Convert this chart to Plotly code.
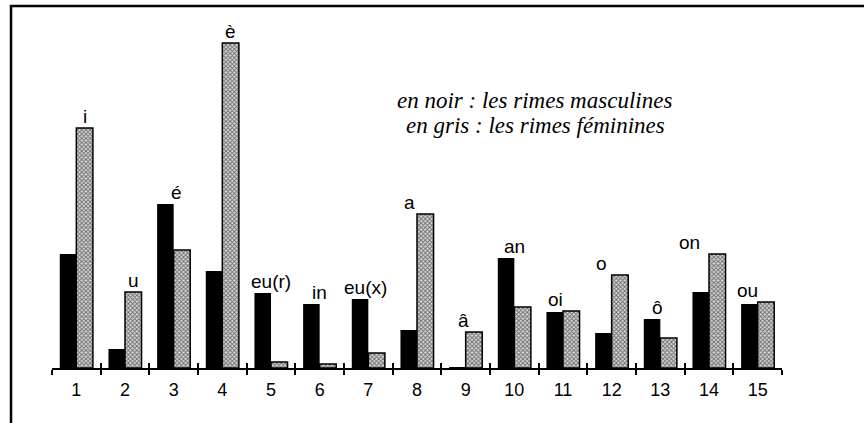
import plotly.graph_objects as go

# ---- data ----
categories = list(range(1, 16))
tick_labels = [str(c) for c in categories]
rimes = ["i", "u", "é", "è", "eu(r)", "in", "eu(x)", "a", "â", "an", "oi", "o", "ô", "on", "ou"]
masculines = [114, 19, 164, 97, 75, 64, 69, 38, 1, 110, 56, 35, 49, 76, 64]
feminines = [240, 76, 118, 325, 6, 4, 15, 154, 36, 61, 57, 93, 30, 114, 66]

# ---- style: horizontal placement of each rhyme label (in category units) ----
label_dx = [0.17, 0.17, 0.05, 0.17, 0, 0, -0.05, -0.15, -0.05, 0, -0.15, -0.2, -0.05, -0.4, -0.2]

W, H = 864, 423
ML, MR, MT, MB = 52, 82, 28, 55
YMAX = 340

boundaries = [c - 0.5 for c in categories] + [categories[-1] + 0.5]

fig = go.Figure()
fig.add_trace(go.Bar(
    x=categories, y=masculines, name="masculines",
    marker=dict(color="black", line=dict(width=0)),
))
fig.add_trace(go.Bar(
    x=categories, y=feminines, name="féminines",
    marker=dict(
        color="#808080",
        line=dict(color="black", width=1.5),
        pattern=dict(shape="x", size=3, solidity=0.55, fgcolor="#000000", bgcolor="#dcdcdc"),
    ),
))
# invisible trace to hold the secondary tick axis
fig.add_trace(go.Scatter(x=boundaries, y=[0] * len(boundaries), xaxis="x2", mode="markers",
                         marker=dict(opacity=0), hoverinfo="skip", showlegend=False))

label_font = dict(family="Liberation Sans, Arial, sans-serif", size=19, color="black")
for c, lab, dx, m, f in zip(categories, rimes, label_dx, masculines, feminines):
    fig.add_annotation(
        x=c + dx, y=max(m, f), text=lab, showarrow=False,
        xanchor="center", yanchor="bottom", yshift=-1,
        font=label_font,
    )

legend_font = dict(family="Liberation Serif, Times New Roman, serif", size=23, color="black")
fig.add_annotation(xref="paper", yref="paper", x=(534 - ML) / (W - ML - MR), y=(H - MB - 100) / YMAX,
                   text="<i>en noir : les rimes masculines</i>", showarrow=False,
                   xanchor="center", yanchor="middle", font=legend_font)
fig.add_annotation(xref="paper", yref="paper", x=(535 - ML) / (W - ML - MR), y=(H - MB - 125) / YMAX,
                   text="<i>en gris : les rimes féminines</i>", showarrow=False,
                   xanchor="center", yanchor="middle", font=legend_font)

# frame (left and top border of the figure)
pw = W - ML - MR
ph = H - MT - MB
def px(xp):
    return (xp - ML) / pw
def py(yp):
    return (H - MB - yp) / ph
fig.add_shape(type="path", xref="paper", yref="paper",
              path=f"M {px(11)} {py(430)} L {px(11)} {py(6)} L {px(870)} {py(6)}",
              line=dict(color="black", width=2.5))

fig.update_layout(
    width=W, height=H,
    margin=dict(l=ML, r=MR, t=MT, b=MB),
    paper_bgcolor="white", plot_bgcolor="white",
    barmode="group", bargap=0.32, bargroupgap=0,
    showlegend=False,
    xaxis=dict(
        range=[0.5, 15.5], tickmode="array", tickvals=categories, ticktext=tick_labels,
        ticks="", showgrid=False, zeroline=False,
        showline=True, linecolor="black", linewidth=2,
        tickfont=dict(family="Liberation Sans, Arial, sans-serif", size=18, color="black"),
        ticklabelstandoff=4,
        minor=dict(tickmode="array", tickvals=boundaries, ticks="outside", ticklen=5,
                   tickwidth=2, tickcolor="black", showgrid=False),
    ),
    xaxis2=dict(
        range=[0.5, 15.5], overlaying="x", anchor="y", side="bottom",
        tickmode="array", tickvals=boundaries, ticks="inside", ticklen=5, tickwidth=2,
        tickcolor="black", showticklabels=False, showgrid=False, zeroline=False, showline=False,
    ),
    yaxis=dict(range=[0, YMAX], visible=False, showgrid=False, zeroline=False),
)

fig.write_html("out.html",
               config={"displayModeBar": False},
               post_script="document.body.style.margin='0';document.body.style.overflow='hidden';")
